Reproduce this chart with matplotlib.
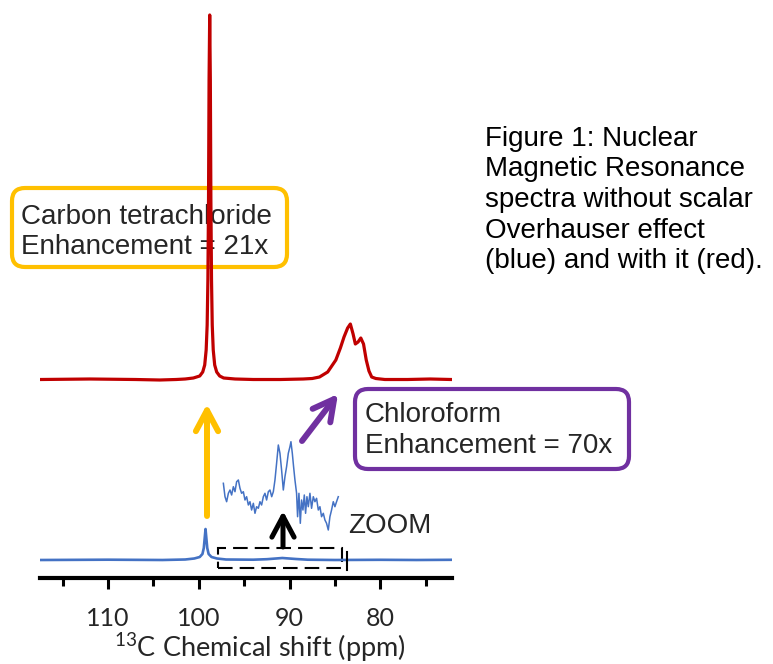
import matplotlib

matplotlib.use("Agg")
import matplotlib.pyplot as plt
from matplotlib.patches import FancyBboxPatch, Rectangle
from matplotlib.ticker import MultipleLocator

plt.rcParams["mathtext.fontset"] = "custom"
plt.rcParams["mathtext.rm"] = "Lato"
plt.rcParams["mathtext.it"] = "Lato:italic"
plt.rcParams["mathtext.bf"] = "Lato:bold"

# 13C spectrum with the scalar Overhauser effect (red) -- ppm, intensity (a.u.)
red_ppm = [117.4, 112.0, 107.0, 104.3, 102.5, 101.5, 100.6, 99.9, 99.57, 99.35,
           99.19, 99.08, 99.0, 98.93, 98.87, 98.8, 98.73, 98.67, 98.6, 98.52,
           98.41, 98.25, 98.03, 97.7, 97.26, 96.0, 94.0, 91.0, 88.5, 87.5,
           86.7, 85.8, 84.9, 84.4, 84.0, 83.6, 83.3, 83.0, 82.75, 82.45,
           82.15, 81.85, 81.55, 81.25, 80.95, 80.5, 79.5, 77.0, 74.5, 72.2]
red_int = [0.5, 1, 0.5, 0, 0.5, 1, 2, 4, 8, 15,
           30, 55, 100, 180, 300, 365, 300, 180, 100, 55,
           30, 15, 8, 4, 2, 1, 0.5, 0.5, 1, 1.5,
           3, 8, 20, 32, 43, 52, 56, 46, 36, 38,
           42, 36, 20, 9, 3, 1.5, 0.5, 0.5, 1, 0.5]

# thermal spectrum without enhancement (blue)
blue_ppm = [117.4, 110.0, 104.0, 101.5, 100.5, 99.9, 99.6, 99.45, 99.35, 99.26,
            99.17, 99.07, 98.92, 98.6, 98.0, 97.0, 94.0, 92.5, 91.5, 90.8,
            90.2, 89.3, 88.0, 85.0, 80.0, 76.0, 72.2]
blue_int = [0, 0.3, 0, 0.5, 1.5, 3, 6, 12, 22, 31,
            22, 12, 6, 3, 1.5, 0.5, 0.3, 0.8, 1.5, 2,
            1.6, 1, 0.3, 0, 0.2, 0, 0.2]

# expanded blue trace over the chloroform region
zoom_ppm = [97.31, 97.13, 96.95, 96.76, 96.58, 96.40, 96.21, 96.03, 95.85, 95.66,
            95.48, 95.30, 95.11, 94.93, 94.75, 94.56, 94.38, 94.20, 94.01, 93.83,
            93.65, 93.46, 93.28, 93.10, 92.91, 92.73, 92.55, 92.36, 92.18, 91.99,
            91.81, 91.63, 91.45, 91.26, 91.08, 90.90, 90.71, 90.53, 90.35, 90.16,
            89.98, 89.87, 89.72, 89.58, 89.43, 89.25, 89.14, 88.99, 88.84, 88.70,
            88.55, 88.40, 88.26, 88.11, 87.96, 87.78, 87.60, 87.41, 87.23, 87.05,
            86.86, 86.68, 86.50, 86.31, 86.13, 85.95, 85.76, 85.58, 85.40, 85.21,
            85.03, 84.85, 84.66]
zoom_int = [48.7, 35.3, 30.3, 38.7, 42.0, 37.0, 45.3, 40.3, 50.3, 52.0,
            43.7, 38.7, 40.3, 32.0, 35.3, 27.0, 30.3, 22.0, 28.7, 18.7,
            25.3, 23.7, 30.3, 27.0, 35.3, 38.7, 32.0, 40.3, 42.0, 35.3,
            40.3, 52.0, 68.7, 87.0, 78.7, 62.0, 42.0, 55.3, 65.3, 78.7,
            85.3, 90.3, 78.7, 65.3, 52.0, 38.7, 15.3, 38.7, 8.7, 32.0,
            22.0, 37.0, 18.7, 35.3, 25.3, 38.7, 23.7, 35.3, 30.3, 33.7,
            22.0, 25.3, 15.3, 18.7, 12.0, 8.7, 2.0, 15.3, 22.0, 30.3,
            25.3, 30.3, 35.3]

blue_offset = 18
red_offset = 198

RED = "#C00000"
BLUE = "#4472C4"
GOLD = "#FFC000"
PURPLE = "#7030A0"
TEXT = "#262626"
W, H = 773, 664

fig = plt.figure(figsize=(W / 100, H / 100), dpi=100)

# overlay in pixel units for boxes, arrows and captions
ov = fig.add_axes([0, 0, 1, 1], zorder=0)
ov.set_xlim(0, W)
ov.set_ylim(H, 0)
ov.axis("off")

ax = fig.add_axes([40 / W, 86 / H, 412 / W, 578 / H], zorder=1)
ax.patch.set_visible(False)
ax.plot(blue_ppm, [v + blue_offset for v in blue_int], color=BLUE, lw=1.9)
ax.plot(red_ppm, [v + red_offset for v in red_int], color=RED, lw=2.3)
ax.set_xlim(117.5, 72.1)
ax.set_ylim(0, 578)
for side in ("left", "right", "top"):
    ax.spines[side].set_visible(False)
ax.spines["bottom"].set_linewidth(3)
ax.set_yticks([])
ax.xaxis.set_major_locator(MultipleLocator(10))
ax.xaxis.set_minor_locator(MultipleLocator(5))
ax.tick_params(axis="x", which="major", length=8, width=2.2, pad=13,
               labelsize=18, labelcolor=TEXT)
ax.tick_params(axis="x", which="minor", length=6, width=2.2)
for lbl in ax.get_xticklabels():
    lbl.set_fontfamily("Lato")
ax.set_xlabel("$^{13}$C Chemical shift (ppm)", fontsize=19.5, family="Lato",
              color=TEXT, va="baseline")
ax.xaxis.set_label_coords(0.534, -0.136)

# dashed window marking the expanded region
ax.add_patch(Rectangle((97.9, 10), 84.2 - 97.9, 20, fill=False, ec="black",
                       lw=1.5, ls=(0, (7, 3.4))))
ax.plot([83.7, 83.7], [8, 26], color="black", lw=1.5)

ins = fig.add_axes([218 / W, (H - 532) / H, 129 / W, 100 / H], zorder=2)
ins.plot(zoom_ppm, zoom_int, color=BLUE, lw=1.1)
ins.set_xlim(97.9, 83.7)
ins.set_ylim(0, 100)
ins.axis("off")


def arrow(tail, tip, color, lw):
    ov.annotate("", xy=tip, xytext=tail,
                arrowprops=dict(arrowstyle="->,head_length=0.75,head_width=0.4",
                                mutation_scale=20, lw=lw, color=color,
                                shrinkA=0, shrinkB=0))


arrow((207, 516), (207, 404), GOLD, 4.3)
arrow((302, 441), (338, 394), PURPLE, 4.3)
arrow((283, 547), (283, 511), "black", 3.6)


def label_box(x0, y0, x1, y1, color, lines, baselines, tx):
    ov.add_patch(FancyBboxPatch((x0, y0), x1 - x0, y1 - y0,
                                boxstyle="round,pad=0,rounding_size=13",
                                fc="white", ec=color, lw=3))
    for text, y in zip(lines, baselines):
        ov.text(tx, y, text, fontsize=20, family="Liberation Sans",
                color=TEXT, va="baseline", ha="left")


label_box(12, 188, 287, 267, GOLD,
          ["Carbon tetrachloride", "Enhancement = 21x"], [224, 254], 21)
label_box(355, 389, 629, 469, PURPLE,
          ["Chloroform", "Enhancement = 70x"], [422, 453], 365)

ov.text(348, 533, "ZOOM", fontsize=20, family="Liberation Sans", color=TEXT,
        va="baseline", ha="left")

caption = ["Figure 1: Nuclear", "Magnetic Resonance", "spectra without scalar",
           "Overhauser effect", "(blue) and with it (red)."]
for i, line in enumerate(caption):
    ov.text(485, 146 + 30.5 * i, line, fontsize=20, family="Liberation Sans",
            color="black", va="baseline", ha="left")

fig.savefig("out.png", dpi=100)
